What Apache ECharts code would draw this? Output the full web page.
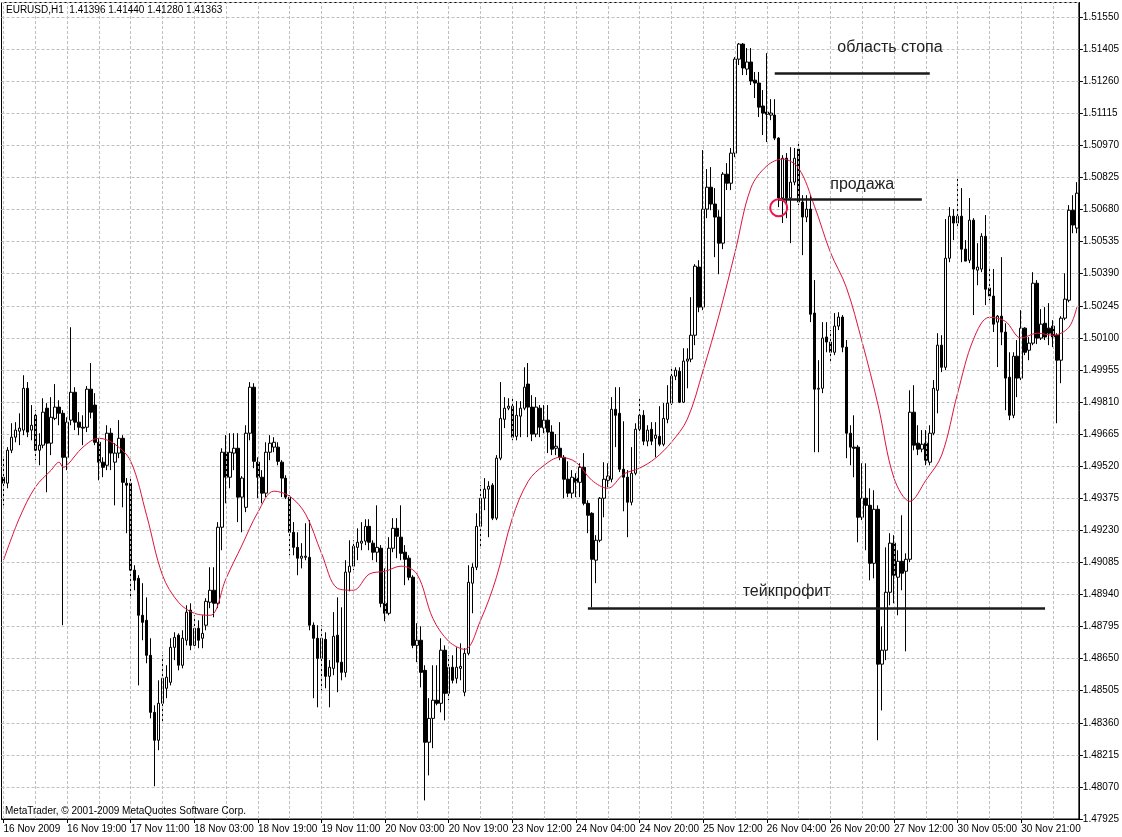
<!DOCTYPE html>
<html><head><meta charset="utf-8">
<script src="https://cdn.jsdelivr.net/npm/echarts@6/dist/echarts.min.js"></script>
<style>html,body{margin:0;padding:0;background:#fff}#c{width:1122px;height:837px}</style>
</head><body><div id="c"></div>
<script>
const headerText = 'EURUSD,H1  1.41396 1.41440 1.41280 1.41363';
const footerText = 'MetaTrader, \u00A9 2001-2009 MetaQuotes Software Corp.';
const timeLabels = ['16 Nov 2009','16 Nov 19:00','17 Nov 11:00','18 Nov 03:00','18 Nov 19:00','19 Nov 11:00','20 Nov 03:00','20 Nov 19:00','23 Nov 12:00','24 Nov 04:00','24 Nov 20:00','25 Nov 12:00','26 Nov 04:00','26 Nov 20:00','27 Nov 12:00','30 Nov 05:00','30 Nov 21:00'];

const opens = [1.49470,1.49443,1.49592,1.49651,1.49678,1.49683,1.49872,1.49683,1.49750,1.49592,1.49615,1.49782,1.49624,1.49736,1.49787,1.49759,1.49560,1.49728,1.49854,1.49719,1.49696,1.49696,1.49868,1.49796,1.49628,1.49538,1.49524,1.49669,1.49538,1.49579,1.49646,1.49443,1.49443,1.49050,1.49013,1.48846,1.48823,1.48665,1.48407,1.48281,1.48448,1.48516,1.48543,1.48701,1.48756,1.48620,1.48733,1.48869,1.48710,1.48787,1.48742,1.48801,1.48905,1.48959,1.48900,1.49244,1.49583,1.49470,1.49579,1.49601,1.49380,1.49334,1.49669,1.49877,1.49538,1.49470,1.49398,1.49583,1.49606,1.49606,1.49538,1.49466,1.49380,1.49221,1.49153,1.49104,1.49108,1.49108,1.48801,1.48742,1.48651,1.48737,1.48570,1.48606,1.48756,1.48634,1.48588,1.49041,1.49068,1.49153,1.49172,1.49181,1.49248,1.49172,1.49131,1.49149,1.48900,1.48855,1.49149,1.49239,1.49199,1.49131,1.49104,1.49018,1.48710,1.48733,1.48597,1.48272,1.48380,1.48462,1.48448,1.48688,1.48493,1.48611,1.48561,1.48606,1.48498,1.48674,1.48991,1.49063,1.49248,1.49375,1.49416,1.49434,1.49285,1.49556,1.49732,1.49782,1.49791,1.49655,1.49746,1.49782,1.49891,1.49787,1.49665,1.49782,1.49692,1.49728,1.49674,1.49601,1.49601,1.49560,1.49461,1.49398,1.49466,1.49447,1.49515,1.49352,1.49307,1.49095,1.49185,1.49375,1.49456,1.49461,1.49777,1.49759,1.49506,1.49470,1.49357,1.49488,1.49687,1.49750,1.49633,1.49687,1.49646,1.49655,1.49619,1.49732,1.49805,1.49927,1.49949,1.49809,1.49995,1.50004,1.50112,1.50420,1.50239,1.50682,1.50781,1.50705,1.50646,1.50528,1.50840,1.50799,1.50935,1.51360,1.51428,1.51315,1.51347,1.51265,1.51252,1.51148,1.51121,1.51107,1.51107,1.51003,1.50732,1.50912,1.50732,1.50804,1.50953,1.50714,1.50646,1.50682,1.50212,1.49868,1.49872,1.50104,1.50081,1.50035,1.50153,1.50194,1.50058,1.49669,1.49606,1.49606,1.49289,1.49375,1.49343,1.49081,1.49325,1.48625,1.48688,1.48950,1.49172,1.49018,1.49090,1.49045,1.49099,1.49764,1.49624,1.49597,1.49624,1.49538,1.49669,1.49863,1.50067,1.49967,1.50460,1.50650,1.50619,1.50650,1.50501,1.50451,1.50632,1.50406,1.50411,1.50559,1.50325,1.50289,1.50171,1.50198,1.50126,1.49922,1.49750,1.50017,1.49918,1.50144,1.50044,1.50076,1.50347,1.50099,1.50166,1.50144,1.50153,1.50112,1.49999,1.50189,1.50270,1.50677,1.50596];

const highs = [1.49556,1.49606,1.49714,1.49719,1.49759,1.49931,1.49900,1.49796,1.49773,1.49669,1.49827,1.49805,1.49832,1.49891,1.49818,1.49773,1.49741,1.50148,1.49877,1.49764,1.49750,1.49882,1.49986,1.49850,1.49646,1.49560,1.49705,1.49692,1.49624,1.49728,1.49660,1.49466,1.49466,1.49072,1.49027,1.48991,1.48927,1.48742,1.48439,1.48552,1.48665,1.48620,1.48742,1.48769,1.48764,1.48778,1.48891,1.48900,1.48846,1.48823,1.48846,1.48923,1.49063,1.49063,1.49267,1.49601,1.49660,1.49669,1.49669,1.49669,1.49475,1.49705,1.49900,1.49895,1.49560,1.49502,1.49628,1.49660,1.49651,1.49628,1.49547,1.49479,1.49389,1.49267,1.49221,1.49172,1.49262,1.49276,1.48814,1.48801,1.48801,1.48769,1.48643,1.48860,1.48927,1.48882,1.49095,1.49185,1.49185,1.49239,1.49267,1.49280,1.49280,1.49185,1.49343,1.49163,1.49058,1.49199,1.49285,1.49285,1.49343,1.49163,1.49117,1.49027,1.48810,1.48796,1.48620,1.48471,1.48620,1.48620,1.48742,1.48710,1.48665,1.48665,1.48701,1.48719,1.48697,1.49072,1.49081,1.49307,1.49434,1.49466,1.49452,1.49443,1.49570,1.49900,1.49832,1.49827,1.49832,1.49814,1.49814,1.49967,1.49986,1.49841,1.49832,1.49796,1.49796,1.49796,1.49705,1.49665,1.49719,1.49570,1.49542,1.49502,1.49488,1.49533,1.49579,1.49366,1.49312,1.49208,1.49380,1.49538,1.49533,1.49832,1.49877,1.49877,1.49723,1.49502,1.49606,1.49714,1.49827,1.49773,1.49705,1.49719,1.49719,1.49791,1.49805,1.49886,1.49967,1.49967,1.49967,1.50053,1.50053,1.50284,1.50433,1.50451,1.50949,1.50863,1.50872,1.50777,1.50677,1.50849,1.50890,1.50958,1.51369,1.51433,1.51433,1.51410,1.51410,1.51302,1.51302,1.51220,1.51387,1.51179,1.51179,1.51007,1.50926,1.50935,1.50962,1.50958,1.50989,1.50745,1.50745,1.50745,1.50361,1.49999,1.50171,1.50171,1.50135,1.50212,1.50216,1.50203,1.50090,1.49705,1.49750,1.49615,1.49533,1.49533,1.49420,1.49411,1.49343,1.48796,1.49153,1.49217,1.49208,1.49140,1.49298,1.49126,1.49863,1.49886,1.49705,1.49683,1.49683,1.49705,1.49909,1.50121,1.50112,1.50637,1.50691,1.50682,1.50827,1.50777,1.50542,1.50732,1.50641,1.50528,1.50573,1.50655,1.50411,1.50411,1.50203,1.50465,1.50166,1.50035,1.50035,1.50090,1.50225,1.50148,1.50103,1.50397,1.50361,1.50230,1.50239,1.50257,1.50180,1.50121,1.50198,1.50392,1.50700,1.50745,1.50804];

const lows = [1.49343,1.49420,1.49579,1.49628,1.49615,1.49660,1.49651,1.49637,1.49547,1.49524,1.49601,1.49402,1.49570,1.49728,1.49705,1.48801,1.49502,1.49705,1.49683,1.49660,1.49615,1.49674,1.49736,1.49615,1.49456,1.49470,1.49502,1.49502,1.49343,1.49556,1.49334,1.49217,1.48927,1.48959,1.48529,1.48733,1.48629,1.48380,1.48073,1.48236,1.48358,1.48471,1.48529,1.48643,1.48597,1.48606,1.48710,1.48688,1.48697,1.48697,1.48697,1.48778,1.48878,1.48837,1.48878,1.49140,1.49352,1.49420,1.49502,1.49267,1.49221,1.49312,1.49637,1.49511,1.49375,1.49352,1.49380,1.49547,1.49583,1.49524,1.49380,1.49371,1.49117,1.49117,1.49027,1.49058,1.49095,1.48778,1.48471,1.48430,1.48507,1.48516,1.48430,1.48575,1.48498,1.48552,1.48566,1.48954,1.49050,1.49095,1.49140,1.49163,1.49140,1.49095,1.49086,1.48882,1.48819,1.48846,1.49131,1.49104,1.49095,1.48982,1.49004,1.48697,1.48634,1.48520,1.48009,1.48122,1.48245,1.48439,1.48407,1.48371,1.48462,1.48538,1.48538,1.48552,1.48480,1.48665,1.48855,1.49050,1.49153,1.49321,1.49199,1.49276,1.49276,1.49547,1.49692,1.49773,1.49637,1.49637,1.49651,1.49773,1.49651,1.49633,1.49651,1.49651,1.49669,1.49579,1.49570,1.49570,1.49547,1.49375,1.49380,1.49375,1.49380,1.49380,1.49343,1.49217,1.48882,1.48991,1.49176,1.49289,1.49425,1.49447,1.49606,1.49493,1.49316,1.49199,1.49343,1.49479,1.49674,1.49615,1.49610,1.49615,1.49560,1.49610,1.49610,1.49714,1.49796,1.49909,1.49805,1.49805,1.49872,1.49990,1.50067,1.50216,1.50225,1.50641,1.50677,1.50465,1.50388,1.50501,1.50768,1.50768,1.50917,1.51333,1.51288,1.51288,1.51243,1.51184,1.51098,1.51017,1.50985,1.51084,1.50994,1.50691,1.50619,1.50641,1.50528,1.50790,1.50700,1.50474,1.50623,1.50171,1.49583,1.49583,1.49850,1.50035,1.49986,1.50022,1.50135,1.50035,1.49556,1.49524,1.49470,1.49176,1.49276,1.49140,1.49004,1.49013,1.48281,1.48416,1.48643,1.48891,1.48900,1.48846,1.48959,1.48683,1.49086,1.49592,1.49570,1.49583,1.49524,1.49524,1.49660,1.49759,1.49945,1.49954,1.50442,1.50542,1.50596,1.50442,1.50474,1.50438,1.50203,1.50338,1.50397,1.50248,1.50270,1.50126,1.49968,1.50067,1.49773,1.49728,1.49737,1.49832,1.49909,1.50022,1.49999,1.50067,1.50072,1.50090,1.50090,1.50067,1.50058,1.49714,1.49895,1.50180,1.50261,1.50573,1.50573];

const closes = [1.49443,1.49592,1.49651,1.49683,1.49692,1.49872,1.49674,1.49705,1.49592,1.49615,1.49764,1.49624,1.49741,1.49787,1.49759,1.49560,1.49719,1.49854,1.49719,1.49696,1.49692,1.49868,1.49764,1.49628,1.49538,1.49515,1.49669,1.49579,1.49579,1.49646,1.49447,1.49434,1.49050,1.49004,1.48846,1.48814,1.48665,1.48407,1.48281,1.48448,1.48561,1.48566,1.48701,1.48746,1.48620,1.48742,1.48860,1.48710,1.48787,1.48733,1.48764,1.48909,1.48959,1.48900,1.49244,1.49583,1.49470,1.49583,1.49601,1.49380,1.49466,1.49669,1.49877,1.49542,1.49470,1.49398,1.49583,1.49624,1.49628,1.49542,1.49466,1.49380,1.49221,1.49153,1.49104,1.49113,1.49113,1.48801,1.48742,1.48651,1.48742,1.48570,1.48611,1.48751,1.48634,1.48588,1.49041,1.49068,1.49158,1.49176,1.49181,1.49248,1.49176,1.49131,1.49153,1.48900,1.48855,1.49149,1.49239,1.49203,1.49126,1.49099,1.49018,1.48710,1.48733,1.48588,1.48272,1.48380,1.48462,1.48448,1.48688,1.48493,1.48611,1.48552,1.48611,1.48615,1.48674,1.48995,1.49063,1.49248,1.49375,1.49416,1.49429,1.49285,1.49556,1.49736,1.49782,1.49791,1.49651,1.49750,1.49782,1.49877,1.49787,1.49665,1.49787,1.49696,1.49728,1.49674,1.49597,1.49610,1.49560,1.49461,1.49398,1.49470,1.49447,1.49515,1.49352,1.49298,1.49099,1.49185,1.49375,1.49461,1.49475,1.49777,1.49750,1.49506,1.49470,1.49357,1.49488,1.49687,1.49750,1.49633,1.49683,1.49633,1.49660,1.49619,1.49736,1.49805,1.49927,1.49954,1.49809,1.49995,1.50004,1.50112,1.50424,1.50239,1.50682,1.50781,1.50705,1.50646,1.50528,1.50840,1.50799,1.50935,1.51360,1.51428,1.51320,1.51347,1.51261,1.51252,1.51143,1.51116,1.51111,1.51116,1.51003,1.50732,1.50912,1.50732,1.50804,1.50912,1.50714,1.50646,1.50682,1.50207,1.49868,1.49872,1.50099,1.50081,1.50035,1.50153,1.50194,1.50058,1.49669,1.49606,1.49601,1.49289,1.49375,1.49343,1.49081,1.49325,1.48625,1.48688,1.48950,1.49172,1.49027,1.49090,1.49036,1.49099,1.49764,1.49615,1.49597,1.49619,1.49547,1.49669,1.49872,1.50067,1.49967,1.50460,1.50650,1.50619,1.50650,1.50501,1.50447,1.50632,1.50411,1.50420,1.50559,1.50320,1.50289,1.50162,1.50198,1.50126,1.49918,1.49750,1.50017,1.49918,1.50144,1.50035,1.50076,1.50347,1.50099,1.50162,1.50104,1.50121,1.50104,1.49999,1.50189,1.50275,1.50677,1.50610,1.50754];

const maBars = [0,4,8,12,14,15,16,20,24,28,32,36,40,44,48,52,56,60,64,68,72,76,80,84,88,92,96,100,104,108,112,116,120,124,128,132,136,140,144,148,152,156,160,164,168,172,176,180,184,188,192,196,200,204,208,212,216,220,224,228,232,236,240,244,248,252,256,260,264,268,270];
const maValues = [1.49095,1.49285,1.49425,1.49502,1.49538,1.49515,1.49524,1.49606,1.49646,1.49619,1.49542,1.49298,1.49027,1.48905,1.48855,1.48846,1.49013,1.49163,1.49312,1.49407,1.49384,1.49303,1.49126,1.48968,1.48959,1.49032,1.49045,1.49068,1.49032,1.48832,1.48728,1.48692,1.48823,1.49018,1.49285,1.49452,1.49524,1.49560,1.49538,1.49456,1.49420,1.49484,1.49511,1.49556,1.49628,1.49732,1.49954,1.50203,1.50486,1.50777,1.50877,1.50908,1.50867,1.50695,1.50487,1.50329,1.50080,1.49796,1.49466,1.49361,1.49456,1.49570,1.49850,1.50094,1.50193,1.50175,1.50099,1.50121,1.50112,1.50148,1.50239];

// annotations (bar index, price)
const stopZone = {from: 194, to: 233, price: 1.51296, text: 'область стопа', textBar: 223, textPrice: 1.51410};
const sellLevel = {from: 195, to: 231, price: 1.50726, text: 'продажа', textBar: 216, textPrice: 1.50795};
const takeProfit = {from: 147, to: 262, price: 1.48879, text: 'тейкпрофит', textBar: 197, textPrice: 1.48955};
const entryMark = {bar: 195, price: 1.50688};

const categories = opens.map((_, i) => String(i));
const candles = opens.map((o, i) => [o, closes[i], lows[i], highs[i]]);
const maData = maBars.map((b, k) => [String(b), maValues[k]]);
// vertical grid every 8 bars
const vGrid = categories.filter((c, i) => i % 8 === 0).map(c => ({xAxis: c}));

const FONT = 'Liberation Sans';
const gridLine = {color: '#c0c0c0', type: [3, 2], width: 1};
const hLine = z => [{coord: [String(z.from), z.price]}, {coord: [String(z.to), z.price]}];
const txt = z => ({name: z.text, coord: [String(z.textBar), z.textPrice], symbol: 'rect', symbolSize: 1,
  itemStyle: {color: 'rgba(0,0,0,0)'},
  label: {show: true, position: 'inside', formatter: '{b}', color: '#222', fontSize: 16, fontFamily: FONT}});

const every16 = idx => idx % 16 === 0;

const chart = echarts.init(document.getElementById('c'), null, {renderer: 'canvas'});
chart.setOption({
  animation: false,
  backgroundColor: '#fff',
  title: [
    {text: headerText, left: 6, top: 5, padding: 0, textStyle: {fontSize: 10, fontWeight: 'normal', color: '#000', fontFamily: FONT}},
    {text: footerText, left: 5, top: 806, padding: 0, textStyle: {fontSize: 10, fontWeight: 'normal', color: '#000', fontFamily: FONT}}
  ],
  grid: {left: 1.5, top: 2.5, width: 1082.5, height: 816.5, show: true, borderColor: '#000', borderWidth: 1, containLabel: false},
  xAxis: {
    type: 'category', data: categories, boundaryGap: true,
    axisLine: {show: true, lineStyle: {color: '#000'}},
    axisTick: {show: true, interval: every16, alignWithLabel: true, length: 4, lineStyle: {color: '#000'}},
    axisLabel: {interval: every16, align: 'left', margin: 5, fontSize: 10, color: '#000', fontFamily: FONT,
      formatter: (v, i) => timeLabels[i / 16] || ''},
    splitLine: {show: false}
  },
  yAxis: {
    type: 'value', position: 'right', min: 1.47925, max: 1.51616, interval: 0.00145,
    axisLine: {show: true, lineStyle: {color: '#000'}},
    axisTick: {show: true, length: 4, lineStyle: {color: '#000'}},
    axisLabel: {showMaxLabel: false, margin: 4, fontSize: 10, color: '#000', fontFamily: FONT, formatter: v => v.toFixed(5)},
    splitLine: {show: true, lineStyle: gridLine}
  },
  series: [
    {
      type: 'line', name: 'grid', data: [], z: 1, silent: true,
      markLine: {silent: true, symbol: ['none', 'none'], label: {show: false}, animation: false,
        lineStyle: gridLine, emphasis: {disabled: true}, data: vGrid}
    },
    {
      type: 'candlestick', name: 'EURUSD', data: candles, barWidth: 3, z: 2,
      itemStyle: {color: '#fff', color0: '#000', borderColor: '#000', borderColor0: '#000', borderWidth: 1},
      emphasis: {disabled: true},
      markLine: {
        silent: true, symbol: ['none', 'none'], label: {show: false},
        lineStyle: {color: '#1a1a1a', width: 2.5, type: 'solid'},
        data: [hLine(stopZone), hLine(sellLevel), hLine(takeProfit)]
      },
      markPoint: {
        silent: true,
        data: [
          txt(stopZone), txt(sellLevel), txt(takeProfit),
          {coord: [String(entryMark.bar), entryMark.price], symbol: 'circle', symbolSize: 17,
           itemStyle: {color: 'rgba(0,0,0,0)', borderColor: '#e8174a', borderWidth: 2}, label: {show: false}}
        ]
      }
    },
    {
      type: 'line', name: 'MA', data: maData, showSymbol: false, symbol: 'none', smooth: 0.35, z: 3,
      lineStyle: {color: '#dc143c', width: 1}, emphasis: {disabled: true}
    }
  ]
});
</script>
</body></html>
